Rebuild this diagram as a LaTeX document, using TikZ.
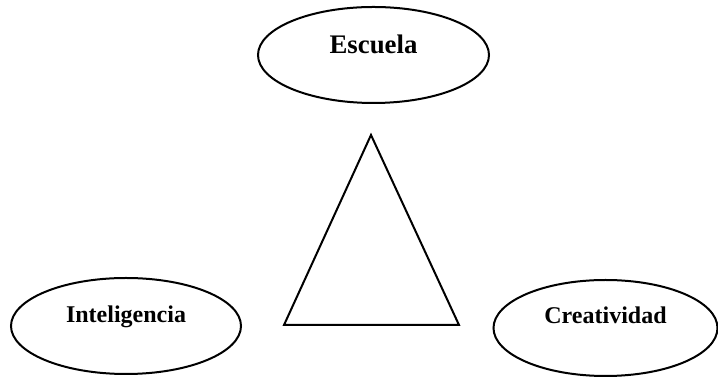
\documentclass[tikz,border=0pt]{standalone}
\usepackage{fontspec}
\setmainfont{Liberation Serif}
\usetikzlibrary{shapes.geometric}
\begin{document}
\begin{tikzpicture}[x=0.5pt, y=-0.5pt,
    oval/.style={draw, ellipse, line width=1pt, minimum width=#1, minimum height=48pt,
        inner sep=0pt, font=\fontsize{12pt}{14pt}\bfseries, text height=8.5pt, text depth=11.5pt}]
        \useasboundingbox (0, 0) rectangle (718, 378);
        \node[oval=115.5pt, font=\fontsize{13.4pt}{15pt}\bfseries, text height=9.5pt, text depth=10.5pt] (escuela) at (373.5, 55) {Escuela};
        \node[oval=115pt] (inteligencia) at (126, 326) {Inteligencia};
        \node[oval=112pt, text depth=12.5pt] (creatividad) at (605.5, 328) {Creatividad};
        % triangulo central
        \draw[line width=1pt, line join=miter] (371, 135) -- (459, 325) -- (284, 325) -- cycle;
    \end{tikzpicture}
\end{document}
